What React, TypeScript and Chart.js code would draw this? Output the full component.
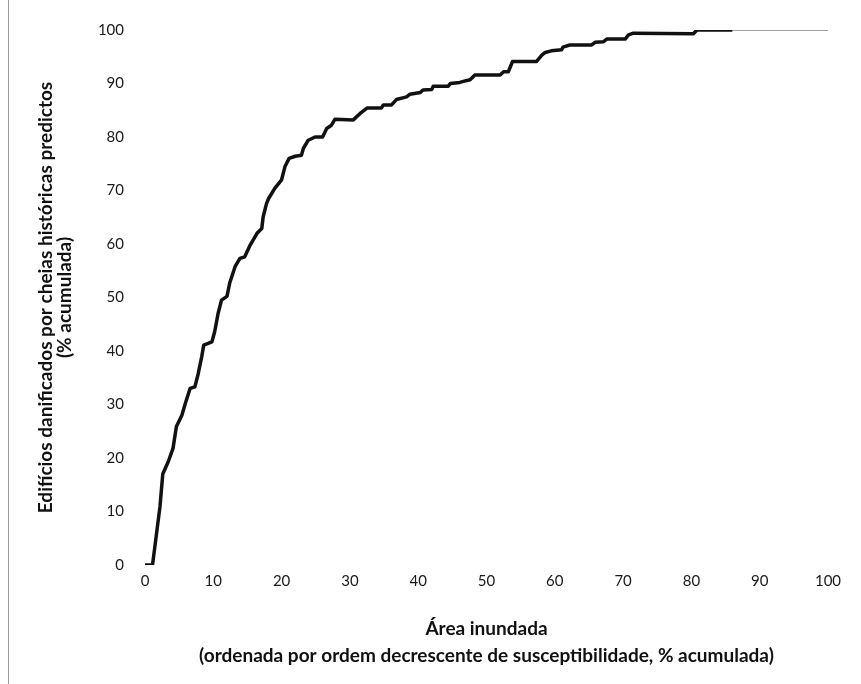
import React, { useEffect, useRef } from "react";
import { Chart, registerables } from "chart.js";

Chart.register(...registerables);

const areaPct: number[] = [
  0, 1.1, 1.5, 2.2, 2.6, 3.4, 4.1, 4.6, 5.4, 5.9, 6.6, 7.3, 7.8, 8.3, 8.6, 9.8,
  10.2, 10.7, 11.2, 12, 12.4, 13.2, 13.9, 14.6, 15.4, 16.4, 17.1, 17.3, 17.8,
  18.1, 19, 20, 20.5, 21.1, 22, 22.9, 23.2, 23.9, 24.9, 26, 26.6, 27.3, 27.8,
  30.5, 31.5, 32.5, 34.6, 34.9, 36.1, 36.8, 38.3, 38.8, 40.3, 40.7, 42, 42.2,
  44.4, 44.7, 46.1, 46.6, 47.6, 48.3, 52, 52.5, 53.2, 53.8, 57.3, 58.1, 58.6,
  59.5, 61, 61.2, 62.2, 65.4, 65.9, 67.1, 67.6, 70.3, 70.8, 71.5, 80.3, 80.8, 86,
];
const buildingsPct: number[] = [
  0, 0, 4, 11, 17, 19.3, 21.8, 25.9, 28, 30.2, 33, 33.3, 35.8, 38.9, 41.1, 41.7,
  43.6, 47, 49.5, 50.2, 52.7, 55.8, 57.3, 57.6, 59.8, 62, 62.9, 65.1, 67.6,
  68.5, 70.4, 72, 74.5, 76, 76.4, 76.6, 77.9, 79.4, 80, 80, 81.6, 82.2, 83.3,
  83.2, 84.4, 85.4, 85.4, 86, 86, 87, 87.5, 88, 88.3, 88.8, 88.9, 89.5,
  89.5, 90, 90.2, 90.4, 90.7, 91.6, 91.6, 92.2, 92.2, 94.1, 94.1, 95.3, 95.8,
  96.1, 96.3, 96.8, 97.2, 97.2, 97.7, 97.8, 98.3, 98.3, 99.1, 99.4, 99.3, 100, 100,
];
const tailArea: number[] = [86, 100];
const tailBuildings: number[] = [100, 100];

const xTitle: string[] = [
  "Área inundada",
  "(ordenada por ordem decrescente de susceptibilidade, % acumulada)",
];
const yTitle: string[] = [
  "Edifícios danificados por cheias históricas predictos",
  "(% acumulada)",
];

export default function App() {
  const ref = useRef<HTMLCanvasElement | null>(null);

  useEffect(() => {
    document.body.style.margin = "0";
    const ctx = ref.current;
    if (!ctx) return;
    const chart = new Chart(ctx, {
      type: "line",
      data: {
        datasets: [
          {
            data: areaPct.map((x, i) => ({ x, y: buildingsPct[i] })),
            borderColor: "#111",
            borderWidth: 3.5,
            pointRadius: 0,
            tension: 0,
            borderJoinStyle: "round",
          },
          {
            data: tailArea.map((x, i) => ({ x, y: tailBuildings[i] })),
            borderColor: "#444",
            borderWidth: 1.2,
            pointRadius: 0,
            tension: 0,
          },
        ],
      },
      options: {
        animation: false,
        responsive: false,
        maintainAspectRatio: false,
        layout: { padding: { left: 36, right: 33, top: 30, bottom: 15 } },
        plugins: { legend: { display: false }, tooltip: { enabled: false } },
        scales: {
          x: {
            type: "linear",
            min: 0,
            max: 100,
            ticks: {
              stepSize: 10,
              padding: 7,
              color: "#1a1a1a",
              font: { family: "Lato", size: 15 },
            },
            grid: { display: false, drawTicks: false },
            border: { display: false },
            title: {
              display: true,
              text: xTitle,
              color: "#111",
              padding: 0,
              font: { family: "Lato", size: 19, weight: "bold", lineHeight: 27 / 19 },
            },
            afterFit: (s: any) => {
              s.height = 104;
            },
          },
          y: {
            min: 0,
            max: 100,
            ticks: {
              stepSize: 10,
              padding: 21,
              color: "#1a1a1a",
              font: { family: "Lato", size: 15 },
            },
            grid: { display: false, drawTicks: false },
            border: { display: false },
            title: {
              display: true,
              text: yTitle,
              color: "#111",
              padding: 0,
              font: { family: "Lato", size: 19, weight: "bold", lineHeight: 1.0 },
            },
            afterFit: (s: any) => {
              s.width = 109;
            },
          },
        },
      },
    });
    return () => chart.destroy();
  }, []);

  return (
    <div style={{ position: "relative", width: 861, height: 684, background: "#fff" }}>
      <div
        style={{
          position: "absolute",
          left: 8,
          top: 0,
          width: 0,
          height: 684,
          borderLeft: "1px solid #9a9a9a",
        }}
      />
      <canvas ref={ref} width={861} height={684} style={{ display: "block" }} />
    </div>
  );
}
